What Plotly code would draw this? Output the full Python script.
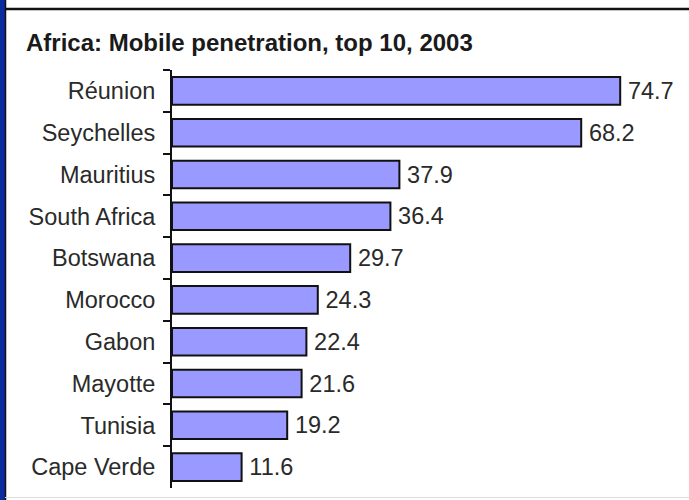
import plotly.graph_objects as go

countries = ["Réunion", "Seychelles", "Mauritius", "South Africa", "Botswana",
             "Morocco", "Gabon", "Mayotte", "Tunisia", "Cape Verde"]
penetration = [74.7, 68.2, 37.9, 36.4, 29.7, 24.3, 22.4, 21.6, 19.2, 11.6]
title_text = "Africa: Mobile penetration, top 10, 2003"

W, H = 689, 500
L, R, T, B = 172, 10, 70, 12
pw = W - L - R
ph = H - T - B

def px(x):
    return (x - L) / pw

def py(y):
    return (H - B - y) / ph

font = "Liberation Sans, Arial, sans-serif"

fig = go.Figure(go.Bar(
    x=penetration, y=countries, orientation="h",
    marker=dict(color="#9999FF", line=dict(color="#111111", width=2)),
    width=0.66,
    text=[f"\u2009{v:.1f}" for v in penetration],
    textposition="outside",
    textfont=dict(family=font, size=23.5, color="#2a2a2a"),
    cliponaxis=False,
))

fig.update_layout(
    width=W, height=H,
    margin=dict(l=L, r=R, t=T, b=B, pad=0),
    paper_bgcolor="white", plot_bgcolor="white",
    showlegend=False,
    xaxis=dict(range=[0, pw / 6.0], visible=False, fixedrange=True),
    yaxis=dict(autorange="reversed", showline=True, linecolor="#111111", linewidth=2,
               ticks="outside", tickson="boundaries", ticklen=7, tickwidth=2,
               tickcolor="#111111", showgrid=False, zeroline=False,
               tickfont=dict(family=font, size=23.5, color="#2a2a2a"),
               ticklabelstandoff=10, fixedrange=True),
    annotations=[dict(text=f"<b>{title_text}</b>", xref="paper", yref="paper",
                      x=px(24), y=py(42), xanchor="left", yanchor="middle",
                      showarrow=False,
                      font=dict(family=font, size=24, color="#1a1a1a"))],
    shapes=[
        dict(type="rect", xref="paper", yref="paper", x0=px(0), x1=px(5),
             y0=py(H), y1=py(0), fillcolor="#0B2C9E", line=dict(width=0), layer="above"),
        dict(type="line", xref="paper", yref="paper", x0=px(5.5), x1=px(5.5),
             y0=py(H), y1=py(0), line=dict(color="#111111", width=1.5), layer="above"),
        dict(type="line", xref="paper", yref="paper", x0=px(5), x1=px(W),
             y0=py(9), y1=py(9), line=dict(color="#111111", width=2.5), layer="above"),
        dict(type="line", xref="paper", yref="paper", x0=px(5), x1=px(W),
             y0=py(497.5), y1=py(497.5), line=dict(color="#dddddd", width=1), layer="above"),
    ],
)

fig.write_html("out.html", config={"displayModeBar": False},
               post_script="document.body.style.margin='0';document.body.style.padding='0';")
